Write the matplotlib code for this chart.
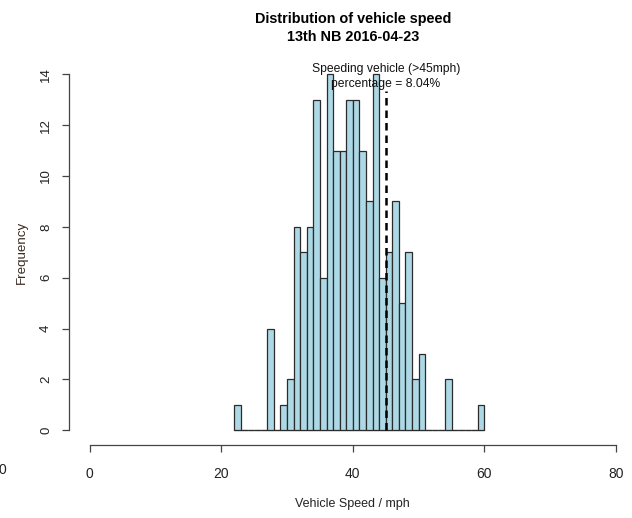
import matplotlib
matplotlib.use("Agg")
import matplotlib.pyplot as plt
import numpy as np

# Histogram of vehicle speeds, 1 mph bins
bin_left = list(range(22, 60))
counts = [1, 0, 0, 0, 0, 4, 0, 1, 2, 8, 7, 8, 13, 6, 14, 11, 11, 13, 13, 11,
          9, 14, 6, 7, 9, 5, 7, 2, 3, 0, 0, 0, 2, 0, 0, 0, 0, 1]
speed_limit = 45
x_ticks = [0, 20, 40, 60, 80]
y_ticks = [0, 2, 4, 6, 8, 10, 12, 14]
title = "Distribution of vehicle speed\n13th NB 2016-04-23"
note = "Speeding vehicle (>45mph)\npercentage = 8.04%"

plt.rcParams["font.family"] = ["Liberation Sans", "DejaVu Sans"]

W, H = 632, 518
fig = plt.figure(figsize=(W / 100, H / 100), dpi=100)
x0, x1 = 68.7, 637.0
y0, y1 = 60.0, 444.5
ax = fig.add_axes([x0 / W, 1 - y1 / H, (x1 - x0) / W, (y1 - y0) / H])
ax.set_xlim(-3.2, 83.2)
ax.set_ylim(-0.56, 14.56)

ax.bar(bin_left, counts, width=1, align="edge", color="#ADD8E6",
       edgecolor="#2b2b2b", linewidth=0.9, zorder=2)
# baseline under the bars
ax.plot([bin_left[0], bin_left[-1] + 1], [0, 0], color="#888888", lw=0.9, zorder=1)

ax.vlines(speed_limit, 0, 13.35, colors="black", linestyles=(0, (3, 2)), lw=1.8, zorder=3)
ax.text(speed_limit, 13.92, note, ha="center", va="center", fontsize=8.7,
        color="#111111", linespacing=1.35, zorder=4)

for s in ["top", "right"]:
    ax.spines[s].set_visible(False)
ax.spines["bottom"].set_bounds(0, 80)
ax.spines["left"].set_bounds(0, 14)
for s in ["bottom", "left"]:
    ax.spines[s].set_color("#444444")
    ax.spines[s].set_linewidth(0.9)

ax.set_xticks(x_ticks)
ax.set_yticks(y_ticks)
ax.set_xticklabels([str(v) for v in x_ticks], fontsize=10)
ax.set_yticklabels([str(v) for v in y_ticks], fontsize=9.5, rotation=90, va="center")
ax.tick_params(axis="both", length=5, width=0.9, color="#444444", labelcolor="#222222")
ax.tick_params(axis="x", pad=11)
ax.tick_params(axis="y", pad=7)

fig.text(352.8 / W, 1 - 28 / H, title, ha="center", va="center", fontsize=10.4,
         fontweight="bold", linespacing=1.45)
fig.text(21.5 / W, 1 - 252 / H, "Frequency", rotation=90, ha="center", va="center",
         fontsize=9.6, color="#3a2a20")
fig.text(352.8 / W, 1 - 504 / H, "Vehicle Speed / mph", ha="center", va="center",
         fontsize=9, color="#222222")
fig.text(2 / W, 1 - 470 / H, "0", ha="center", va="center", fontsize=10,
         color="#222222")

fig.savefig("out.png", dpi=100)
